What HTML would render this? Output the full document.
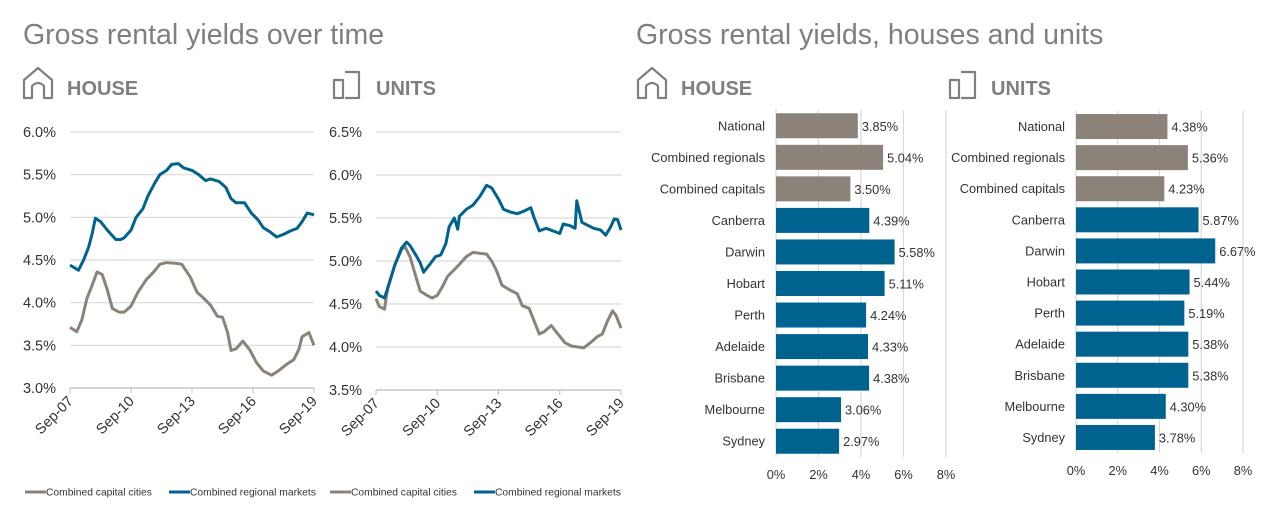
<!DOCTYPE html>
<html><head><meta charset="utf-8"><style>
body{margin:0;background:#fff;font-family:"Liberation Sans",Arial,sans-serif;}
svg{display:block}
</style></head><body>
<svg id="s" width="1267" height="517" viewBox="0 0 1267 517">
<text x="23" y="44" font-size="28.5" fill="#7f7f7f">Gross rental yields over time</text>
<text x="636" y="44" font-size="28.5" fill="#7f7f7f">Gross rental yields, houses and units</text>
<g fill="none" stroke="#7f7f7f" stroke-width="2.2" stroke-linejoin="round">
<path d="M24 98 V80 L38 68 L52 80 V98 H44 V86 Q38 80 32 86 V98 Z"/>
<path d="M638 98 V80 L652 68 L666 80 V98 H658 V86 Q652 80 646 86 V98 Z"/>
<path d="M334 80 H343 V98 H334 Z M345 72 H359 V98 H345"/>
<path d="M950 80 H959 V98 H950 Z M961 72 H975 V98 H961"/>
</g>
<g font-size="20" font-weight="bold" fill="#7f7f7f">
<text x="67" y="95">HOUSE</text>
<text x="376" y="95">UNITS</text>
<text x="681" y="95">HOUSE</text>
<text x="991" y="95">UNITS</text>
</g>
<g id="charts"></g>
</svg>
<script>
// House line chart data (months since Sep-07)
const houseRegMonths=[0,5,8,11,13,15,18,22,27,30,32,36,39,43,46,50,53,57,60,64,67,72,76,80,83,88,92,95,98,103,107,111,114,118,122,126,130,134,137,140,144];
const houseRegVals=[4.44,4.38,4.5,4.65,4.8,4.99,4.95,4.85,4.74,4.74,4.76,4.85,5.0,5.1,5.25,5.4,5.5,5.55,5.62,5.63,5.58,5.55,5.5,5.43,5.45,5.42,5.35,5.22,5.17,5.17,5.05,4.97,4.88,4.83,4.77,4.8,4.84,4.87,4.95,5.05,5.03];
const houseCapMonths=[0,4,7,10,13,16,19,22,25,29,32,36,40,45,49,53,57,63,66,71,75,79,83,87,90,93,95,98,102,106,110,114,119,123,128,132,135,137,141,144];
const houseCapVals=[3.71,3.66,3.8,4.05,4.2,4.36,4.33,4.15,3.93,3.89,3.89,3.96,4.12,4.27,4.35,4.45,4.47,4.46,4.45,4.3,4.12,4.05,3.97,3.84,3.83,3.65,3.44,3.46,3.55,3.45,3.3,3.2,3.15,3.2,3.28,3.33,3.45,3.6,3.65,3.5];
// Units line chart data
const unitRegMonths=[0,2,5,8,11,15,18,20,24,26,28,32,35,38,41,43,46,48,49,53,57,61,65,68,72,75,79,83,87,91,93,96,100,104,108,110,114,117,118,121,124,128,132,135,138,140,142,144];
const unitRegVals=[4.65,4.6,4.57,4.75,4.95,5.15,5.22,5.18,5.05,4.98,4.87,4.97,5.05,5.07,5.2,5.4,5.5,5.37,5.52,5.6,5.65,5.75,5.88,5.85,5.72,5.6,5.57,5.55,5.58,5.62,5.5,5.35,5.38,5.35,5.32,5.43,5.41,5.38,5.7,5.45,5.42,5.38,5.36,5.3,5.4,5.49,5.48,5.36];
const unitCapMonths=[0,2,5,7,11,15,17,20,23,26,30,33,36,39,42,45,49,53,57,61,65,68,71,74,78,83,86,90,93,96,99,103,107,111,115,119,122,126,130,133,136,139,141,144];
const unitCapVals=[4.56,4.47,4.44,4.7,4.95,5.13,5.17,5.05,4.85,4.65,4.6,4.57,4.6,4.7,4.82,4.88,4.96,5.05,5.1,5.09,5.08,5.0,4.88,4.72,4.67,4.62,4.48,4.45,4.3,4.15,4.18,4.25,4.15,4.05,4.01,4.0,3.99,4.05,4.12,4.15,4.3,4.42,4.37,4.22];
const xTickLabels=["Sep-07","Sep-10","Sep-13","Sep-16","Sep-19"];
const xTickMonths=[0,36,72,108,144];
const houseYTicks=[3.0,3.5,4.0,4.5,5.0,5.5,6.0];
const unitYTicks=[3.5,4.0,4.5,5.0,5.5,6.0,6.5];
// Bar chart data
const barCategories=["National","Combined regionals","Combined capitals","Canberra","Darwin","Hobart","Perth","Adelaide","Brisbane","Melbourne","Sydney"];
const houseBarVals=[3.85,5.04,3.50,4.39,5.58,5.11,4.24,4.33,4.38,3.06,2.97];
const unitBarVals=[4.38,5.36,4.23,5.87,6.67,5.44,5.19,5.38,5.38,4.30,3.78];
const barTicks=[0,2,4,6,8];

const NS="http://www.w3.org/2000/svg";
const root=document.getElementById('charts');
function el(tag,attrs,parent,txt){const e=document.createElementNS(NS,tag);for(const k in attrs)e.setAttribute(k,attrs[k]);if(txt!==undefined)e.textContent=txt;(parent||root).appendChild(e);return e;}
const GRAY="#8b8279",BLUE="#00628f";

function lineChart(name,x0,x1,yT,yB,ticks,series,legX){
  const g=el('g',{});
  
  
  const lo=ticks[0],hi=ticks[ticks.length-1];
  const sx=m=>x0+(m/144)*(x1-x0);
  const sy=v=>yB-(v-lo)/(hi-lo)*(yB-yT);
  ticks.forEach(t=>{
    const gl=el('line',{x1:x0,x2:x1,y1:sy(t),y2:sy(t),stroke:'#d9d9d9','stroke-width':1.2},g);
    
    
    const tl=el('text',{x:x0-14,y:sy(t)+5,'text-anchor':'end','font-size':14.5,fill:'#333'},g,t.toFixed(1)+'%');
    
    
  });
  const ax=el('line',{x1:x0,x2:x1,y1:yB,y2:yB,stroke:'#bfbfbf','stroke-width':1.2},g);
  
  
  xTickMonths.forEach((m,i)=>{
    el('line',{x1:sx(m),x2:sx(m),y1:yB,y2:yB+5,stroke:'#bfbfbf'},g);
    const tx=el('text',{x:sx(m)+4,y:yB+14,'text-anchor':'end','font-size':14.5,fill:'#333',transform:`rotate(-45 ${sx(m)+4} ${yB+14})`},g,xTickLabels[i]);
    
    
  });
  series.forEach(s=>{
    const d=s.m.map((m,i)=>(i?'L':'M')+sx(m).toFixed(1)+' '+sy(s.v[i]).toFixed(1)).join(' ');
    const p=el('path',{d:d,fill:'none',stroke:s.c,'stroke-width':3,'stroke-linejoin':'round'},g);
    
    
  });
  const lg=el('g',{},g);
  
  
  el('line',{x1:legX,x2:legX+21,y1:492,y2:492,stroke:GRAY,'stroke-width':3},lg);
  const l1=el('text',{x:legX+21,y:495.5,'font-size':10.3,fill:'#333'},lg,'Combined capital cities');
  
  
  el('line',{x1:legX+144,x2:legX+165,y1:492,y2:492,stroke:BLUE,'stroke-width':3},lg);
  const l2=el('text',{x:legX+165,y:495.5,'font-size':10.3,fill:'#333'},lg,'Combined regional markets');
  
  
}
lineChart('house-line-chart',70,314,132,388,houseYTicks,[{m:houseCapMonths,v:houseCapVals,c:GRAY,n:'capitals-line'},{m:houseRegMonths,v:houseRegVals,c:BLUE,n:'regional-line'}],25);
lineChart('units-line-chart',376,621,132,390,unitYTicks,[{m:unitCapMonths,v:unitCapVals,c:GRAY,n:'capitals-line'},{m:unitRegMonths,v:unitRegVals,c:BLUE,n:'regional-line'}],330);

function barChart(name,x0,x8,yT,yB,labelX,vals){
  const g=el('g',{});
  
  
  const sx=v=>x0+v/8*(x8-x0);
  const band=(yB-yT)/barCategories.length;
  barTicks.forEach(t=>{
    const gl=el('line',{x1:sx(t),x2:sx(t),y1:yT,y2:yB,stroke:'#d9d9d9','stroke-width':1.2},g);
    
    
    const tl=el('text',{x:sx(t),y:yB+22,'text-anchor':'middle','font-size':12.8,fill:'#333'},g,t+'%');
    
    
  });
  barCategories.forEach((c,i)=>{
    const cy=yT+band*(i+0.5);
    const cl=el('text',{x:labelX,y:cy+4.5,'text-anchor':'end','font-size':12.8,fill:'#333'},g,c);
    
    
    const b=el('rect',{x:x0,y:cy-12.5,width:sx(vals[i])-x0,height:25,fill:i<3?GRAY:BLUE},g);
    
    
    const vl=el('text',{x:sx(vals[i])+4,y:cy+5,'font-size':12.8,fill:'#333'},g,vals[i].toFixed(2)+'%');
    
    
  });
}
barChart('house-bar-chart',776,946,110,457,765,houseBarVals);
barChart('units-bar-chart',1076,1243,111,453,1065,unitBarVals);
</script>
</body></html>
